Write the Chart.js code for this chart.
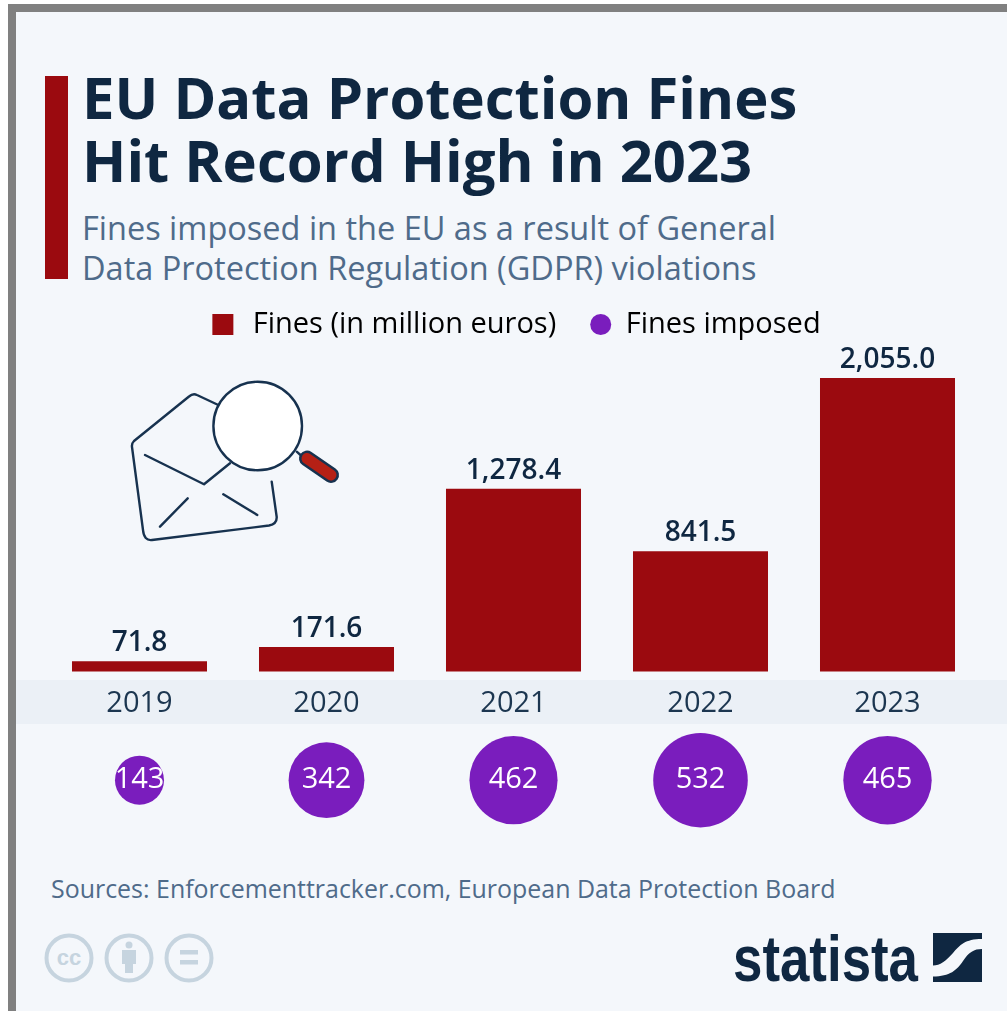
<!DOCTYPE html>
<html><head><meta charset="utf-8">
<style>
html,body{margin:0;padding:0;background:#fff;width:1007px;height:1011px;overflow:hidden;font-family:'Open Sans',sans-serif}
#frame{position:absolute;left:8px;top:4px;width:999px;height:1007px;background:#808080}
#panel{position:absolute;left:16px;top:12px;width:991px;height:999px;background:#f4f7fb}
#accent{position:absolute;left:45px;top:76px;width:23px;height:203px;background:#9b0a0f}
#band{position:absolute;left:16px;top:680px;width:991px;height:44px;background:#ebf0f6}
.t{position:absolute;white-space:nowrap}
#title{left:82px;top:66px;font-size:58px;line-height:62.500px;font-weight:700;color:#0f2741}
#sub{left:82px;top:208px;font-size:32.500px;line-height:40px;color:#4f6b8a}
#src{left:51px;top:872px;font-size:24.950px;line-height:32px;color:#4f6b8a}
canvas{position:absolute;left:0;top:0}
svg{position:absolute;left:0;top:0}
</style></head><body>
<div id="frame"></div><div id="panel"></div><div id="accent"></div><div id="band"></div>
<div class="t" id="title">EU Data Protection Fines<br>Hit Record High in 2023</div>
<div class="t" id="sub">Fines imposed in the EU as a result of General<br>Data Protection Regulation (GDPR) violations</div>
<div class="t" id="src">Sources: Enforcementtracker.com, European Data Protection Board</div>
<svg width="1007" height="1011" viewBox="0 0 1007 1011">
 <g fill="none" stroke="#17324f" stroke-width="2.400" stroke-linecap="round" stroke-linejoin="round">
  <path d="M218.300 405 L197 395 Q193 393 189 396.500 L134 441 Q131.500 443.500 132 447 L143 530 Q144 541 152 540 L269 525.500 Q277 524 276.700 517 L271.700 481.700"/>
  <path d="M145 455 L204 484.300 L230 463.300"/>
  <path d="M187.700 498.300 L160 526.700"/>
  <path d="M223.300 494.300 L257.300 515"/>
  <circle cx="257.700" cy="426" r="44.300" fill="#fff"/>
  <path d="M296.700 451.700 L301 455.500"/>
 </g>
 <path d="M307 458.500 L331 475" stroke="#17324f" stroke-width="16" stroke-linecap="round"/>
 <path d="M307 458.500 L331 475" stroke="#b52015" stroke-width="11" stroke-linecap="round"/>
 <g fill="none" stroke="#c6d4df" stroke-width="4">
  <circle cx="69" cy="958" r="22.500"/><circle cx="129" cy="958" r="22.500"/><circle cx="189" cy="958" r="22.500"/>
 </g>
 <text x="69" y="965" text-anchor="middle" font-family="'Liberation Sans',sans-serif" font-weight="700" font-size="22" fill="#c6d4df">cc</text>
 <g fill="#c6d4df">
  <circle cx="129" cy="945" r="3.500"/><path d="M122 950 H136 V964 H133 V973 H125 V964 H122 Z"/>
  <rect x="180" y="950" width="18" height="4.500"/><rect x="180" y="960" width="18" height="4.500"/>
 </g>
 <g fill="#0f2741">
  <text x="733" y="981" font-family="'Liberation Sans Narrow','Liberation Sans',sans-serif" font-weight="700" font-size="64" textLength="185" lengthAdjust="spacingAndGlyphs">statista</text>
  <path d="M933 933 H982 V939 C965 939 960 945 953 953 C946 961 940 965.500 933 965.500 Z"/>
  <path d="M982 949 V982 H933 V976.500 C950 976.500 957 970 963 961 C969 952 974 949 982 949 Z"/>
 </g>
</svg>
<canvas id="c" width="1007" height="1011"></canvas>
<script src="https://cdn.jsdelivr.net/npm/chart.js@4/dist/chart.umd.min.js"></script>
<script>
const years = ['2019','2020','2021','2022','2023'];
const finesMillionEuros = [71.8,171.6,1278.4,841.5,2055.0];
const finesImposed = [143,342,462,532,465];
const seriesNames = ['Fines (in million euros)','Fines imposed'];
const barColor = '#9b0a0f', bubbleColor = '#7a1dbd', navy = '#0f2741', axisText = '#1c3650', legendText = '#2a4560';
const bubbleRow = -762, bubbleScale = 2.05;
const FONT = "'Open Sans',sans-serif";

const valueLabels = {
  id:'valueLabels',
  afterLayout(chart){ chart.legend.left += 3; chart.legend.right += 3; },
  afterDatasetsDraw(chart){
    const {ctx} = chart;
    ctx.save(); ctx.textAlign='center'; ctx.textBaseline='middle';
    ctx.font = "600 28px " + FONT; ctx.fillStyle = navy;
    chart.getDatasetMeta(0).data.forEach((el,i)=>{
      ctx.fillText(finesMillionEuros[i].toLocaleString('en-US',{minimumFractionDigits:1,maximumFractionDigits:1}), el.x, el.y-18);
    });
    ctx.font = "500 29px " + FONT; ctx.fillStyle = '#fff';
    chart.getDatasetMeta(1).data.forEach((el,i)=>{
      ctx.fillText(String(finesImposed[i]), el.x, el.y);
    });
    ctx.restore();
  }
};

new Chart(document.getElementById('c'),{
  type:'bar',
  data:{
    labels:years,
    datasets:[
      {label:seriesNames[0],data:finesMillionEuros,backgroundColor:barColor,categoryPercentage:1,barPercentage:0.722},
      {type:'bubble',label:seriesNames[1],clip:false,backgroundColor:bubbleColor,borderWidth:0,
       data:years.map((y,i)=>({x:y,y:bubbleRow,r:Math.sqrt(finesImposed[i])*bubbleScale}))}
    ]
  },
  options:{
    responsive:false,animation:false,events:[],
    layout:{autoPadding:false,padding:{top:276,left:46,right:26,bottom:181}},
    plugins:{
      tooltip:{enabled:false},
      legend:{display:true,position:'top',
        labels:{boxWidth:21,boxHeight:21,padding:34,useBorderRadius:true,color:legendText,
          font:{family:FONT,size:29},
          generateLabels(){return [
            {text:'\u2009'+seriesNames[0],fillStyle:barColor,strokeStyle:barColor,lineWidth:0,borderRadius:0,datasetIndex:0},
            {text:seriesNames[1],fillStyle:bubbleColor,strokeStyle:bubbleColor,lineWidth:0,borderRadius:10.5,datasetIndex:1}
          ];}
        }
      }
    },
    scales:{
      x:{type:'category',position:{y:0},offset:true,
         grid:{display:false,drawTicks:false},border:{display:false},
         ticks:{color:axisText,font:{family:FONT,size:29},padding:15,maxRotation:0}},
      y:{type:'linear',display:false,min:-1111,max:2258,grid:{display:false}}
    }
  },
  plugins:[valueLabels]
});
</script>
</body></html>
